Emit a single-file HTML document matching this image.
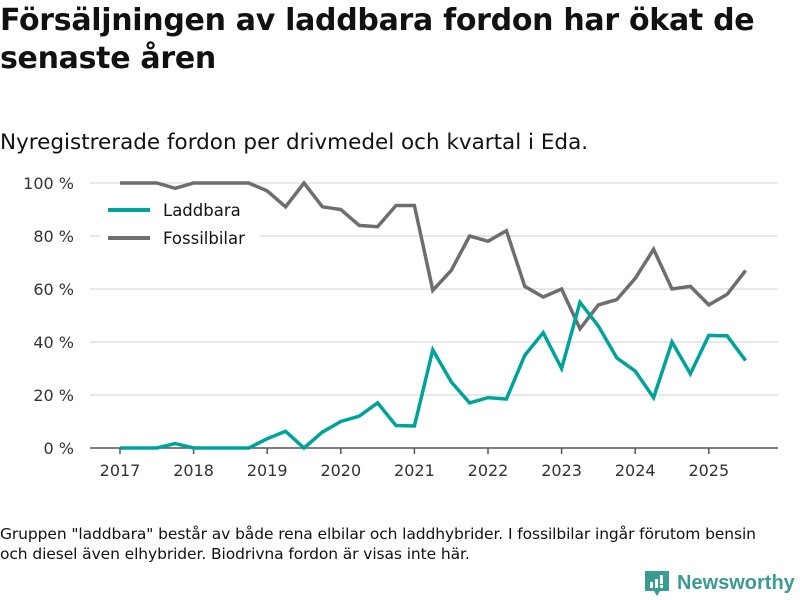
<!DOCTYPE html>
<html><head><meta charset="utf-8"><style>
body{margin:0;width:800px;height:600px;background:#fff;font-family:"DejaVu Sans","Liberation Sans",sans-serif;color:#111;position:relative;overflow:hidden}
.t{position:absolute;left:0;top:2px;font-size:30px;font-weight:bold;line-height:38px;letter-spacing:-0.3px}
.s{position:absolute;left:0;top:130px;font-size:21.5px}
.f{position:absolute;left:0;top:524px;font-size:15.5px;line-height:20px;letter-spacing:-0.1px}
</style></head><body>
<div class="t">Försäljningen av laddbara fordon har ökat de<br>senaste åren</div>
<div class="s">Nyregistrerade fordon per drivmedel och kvartal i Eda.</div>
<svg id="c" width="800" height="600" style="position:absolute;left:0;top:0"></svg>
<div class="f">Gruppen "laddbara" består av både rena elbilar och laddhybrider. I fossilbilar ingår förutom bensin<br>och diesel även elhybrider. Biodrivna fordon är visas inte här.</div>
<div style="position:absolute;left:645px;top:569px;height:28px;display:flex;align-items:center;gap:8px">
<svg width="24" height="28"><path d="M0 2h24v20h-9l-3 5-3-5H0z" fill="#3a9b92"/><rect x="5" y="13" width="3" height="6" fill="#fff"/><rect x="10" y="10" width="3" height="9" fill="#fff"/><rect x="15" y="6" width="3" height="9" fill="#fff"/><rect x="15" y="16" width="3" height="3" fill="#fff"/></svg>
<span style="color:#3a9b92;font-size:20px;font-weight:bold;font-family:'Liberation Sans',sans-serif">Newsworthy</span></div>
<script>
const years=[2017,2018,2019,2020,2021,2022,2023,2024,2025];
const yTicks=[0,20,40,60,80,100];
const laddbara=[0,0,0,1.7,0,0,0,0,3.5,6.3,0,6,10,12,17,8.5,8.3,37,25,17,19,18.5,35,43.5,30,55,46,34,29,19,40,28,42.5,42.3,33];
const fossil=[100,100,100,98,100,100,100,100,97,91,100,91,90,84,83.5,91.5,91.5,59.5,67,80,78,82,61,57,60,45,54,56,64,75,60,61,54,58,67];
const svg=document.getElementById('c');const NS='http://www.w3.org/2000/svg';
const X=t=>120+(t-2017)*73.6;const Y=v=>448-v*2.65;
function mk(tag,a,txt){const e=document.createElementNS(NS,tag);for(const k in a)e.setAttribute(k,a[k]);if(txt!==undefined)e.textContent=txt;svg.appendChild(e);return e;}
yTicks.forEach(v=>{
 if(v>0){const g=mk('line',{x1:90,x2:778,y1:Y(v),y2:Y(v),stroke:'#e0e0e0','stroke-width':1.5});
 
 }
 const t=mk('text',{x:74,y:Y(v)+6,'text-anchor':'end','font-size':16,fill:'#333'},v+' %');
 
 
});
const ax=mk('line',{x1:90,x2:778,y1:448,y2:448,stroke:'#555','stroke-width':1.5});


years.forEach(y=>{
 const tk=mk('line',{x1:X(y),x2:X(y),y1:448,y2:454,stroke:'#555','stroke-width':1.5});
 
 
 const t=mk('text',{x:X(y),y:476,'text-anchor':'middle','font-size':16,fill:'#333'},y);
 
 
});
function line(arr,col,name){const d=arr.map((v,i)=>(i?'L':'M')+X(2017+i/4).toFixed(1)+' '+Y(v).toFixed(1)).join(' ');
 const p=mk('path',{d:d,fill:'none',stroke:col,'stroke-width':3.5,'stroke-linejoin':'miter'});
 
 }
line(fossil,'#6e6d72','fossil-line');
line(laddbara,'#00a39a','laddbara-line');
const lb=mk('rect',{x:100,y:195,width:160,height:58,fill:'#fff'});


[['Laddbara','#00a39a',210],['Fossilbilar','#6e6d72',238]].forEach(([n,c,y])=>{
 const l=mk('line',{x1:108,x2:150,y1:y,y2:y,stroke:c,'stroke-width':4});
 
 
 const t=mk('text',{x:163,y:y+6,'font-size':16.5,fill:'#111'},n);
 
 
});
</script>
</body></html>
